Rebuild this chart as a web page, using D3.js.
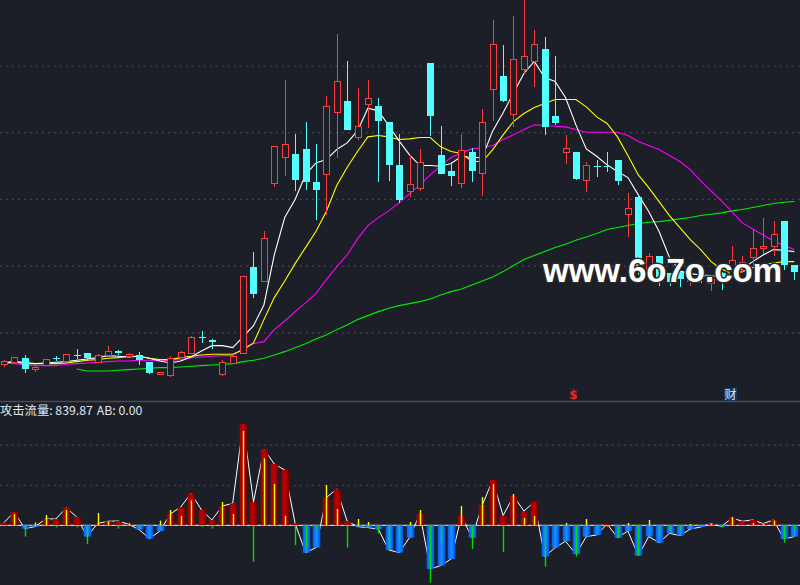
<!DOCTYPE html>
<html><head><meta charset="utf-8">
<script src="https://cdn.jsdelivr.net/npm/d3@7"></script>
<style>html,body{margin:0;padding:0;background:#1c1f27;} svg{display:block;}</style>
</head><body>
<svg id="c" width="800" height="585"></svg>
<script>
// ---- data ----
const opens  = [5.52,5.56,5.62,5.45,5.51,5.61,5.57,5.66,5.69,5.56, 5.66,5.72,5.65,5.66,5.56,5.37,5.37,5.63,5.69,5.93, 5.89,5.37,5.54,5.69,6.98,6.77,8.24,8.64,8.67,8.75, 8.25,8.38,9.31,9.47,8.93,9.43,9.39,9.15,8.51,8.12, 8.17,10.04,8.66,8.42,8.24,8.70,8.40,9.64,9.84,9.27, 9.94,10.06,10.25,9.24,8.70,8.70,8.29,8.50,8.495,8.58, 7.78,8.03,6.96,7.14,6.89,6.90,6.77,6.84,6.74,6.89, 6.83,7.04,7.12,7.27,7.30,7.67,7.01];
const highs  = [5.59,5.63,5.66,5.49,5.60,5.645,5.68,5.75,5.69,5.67, 5.80,5.74,5.69,5.71,5.56,5.41,5.65,5.72,5.95,6.02, 5.90,5.59,5.67,6.84,7.20,7.52,8.80,9.78,8.97,9.15, 8.82,9.54,10.47,10.07,9.67,9.78,9.51,9.16,8.97,8.66, 8.75,10.04,9.09,8.56,8.98,8.76,9.35,10.68,10.31,10.74, 10.98,10.53,10.42,10.14,8.96,8.71,8.55,8.59,8.70,8.59, 8.09,8.06,7.19,7.15,6.89,6.92,6.89,6.93,6.83,6.90, 7.29,7.14,7.54,7.72,7.67,7.67,7.01];
const lows   = [5.48,5.54,5.39,5.41,5.51,5.565,5.56,5.60,5.565,5.55, 5.65,5.655,5.64,5.51,5.37,5.37,5.33,5.62,5.68,5.845, 5.75,5.35,5.53,5.68,6.52,6.76,8.18,8.35,8.12,8.13, 7.68,7.76,8.62,9.03,8.88,9.07,8.26,8.27,7.94,8.03, 8.12,8.95,8.38,8.20,8.16,8.26,8.05,9.17,9.45,9.08, 9.89,9.68,8.96,9.11,8.53,8.28,8.10,8.33,8.41,8.21, 7.43,6.86,6.90,6.69,6.69,6.68,6.69,6.74,6.62,6.63, 6.81,6.885,6.99,7.17,7.14,6.93,6.78];
const closes = [5.57,5.63,5.45,5.48,5.60,5.60,5.68,5.655,5.61,5.66, 5.72,5.69,5.68,5.58,5.40,5.405,5.62,5.70,5.93,5.92, 5.86,5.55,5.65,6.84,6.58,7.42,8.79,8.83,8.28,8.26, 8.13,9.40,9.77,9.04,9.10,9.52,9.16,8.51,7.98,8.23, 8.56,9.25,8.38,8.35,8.74,8.41,9.16,10.32,9.46,10.09, 10.14,10.32,9.08,9.14,8.76,8.30,8.51,8.49,8.485,8.26, 7.87,6.91,7.15,6.78,6.76,6.80,6.83,6.83,6.80,6.80, 7.09,7.06,7.26,7.30,7.48,7.01,6.91];

const ma5  = [5.54,5.56,5.53,5.53,5.54,5.55,5.56,5.58,5.60,5.62, 5.65,5.64,5.63,5.64,5.61,5.57,5.54,5.57,5.63,5.72, 5.80,5.80,5.77,5.93,6.10,6.41,7.16,7.72,7.99,8.36, 8.54,8.59,8.74,8.84,9.02,9.36,9.32,9.10,8.87,8.66, 8.50,8.50,8.49,8.53,8.64,8.62,8.62,9.02,9.29,9.59, 9.88,10.06,9.82,9.76,9.52,9.11,8.75,8.64,8.51,8.41, 8.32,8.06,7.81,7.51,7.12,6.92,6.88,6.86,6.85,6.83, 6.88,6.95,7.06,7.16,7.24,7.23,7.21];
const ma10 = [5.54,5.56,5.55,5.53,5.53,5.53,5.54,5.56,5.58,5.59, 5.61,5.62,5.64,5.64,5.61,5.59,5.59,5.62,5.64,5.66, 5.67,5.67,5.67,5.74,5.84,6.19,6.52,6.77,7.03,7.27, 7.51,7.81,8.20,8.47,8.71,8.93,8.95,8.93,8.89,8.90, 8.92,8.92,8.78,8.71,8.68,8.56,8.56,8.74,8.96,9.16, 9.28,9.37,9.43,9.49,9.49,9.49,9.38,9.23,9.13,8.93, 8.65,8.36,8.17,7.96,7.75,7.57,7.39,7.24,7.06,6.95, 6.88,6.91,6.97,7.01,7.04,7.06,7.06];
const ma20 = [5.54,5.53,5.51,5.50,5.50,5.50,5.52,5.53,5.54,5.55, 5.56,5.57,5.57,5.58,5.58,5.57,5.58,5.59,5.62,5.63, 5.64,5.65,5.65,5.76,5.83,5.86,6.04,6.17,6.31,6.44, 6.58,6.79,6.98,7.16,7.40,7.60,7.72,7.82,7.94,8.08, 8.21,8.36,8.50,8.62,8.69,8.75,8.77,8.80,8.89,8.96, 9.04,9.11,9.10,9.09,9.08,9.04,9.00,9.00,9.00,9.00, 8.95,8.86,8.80,8.74,8.65,8.56,8.44,8.27,8.12,7.97, 7.81,7.64,7.55,7.46,7.37,7.30,7.24];
const ma60 = [null,null,null,null,null,null,null,5.45,5.42,5.42, 5.42,5.43,5.44,5.45,5.46,5.47,5.47,5.48,5.49,5.50, 5.51,5.52,5.53,5.56,5.58,5.61,5.66,5.71,5.77,5.83, 5.90,5.96,6.04,6.11,6.19,6.25,6.31,6.36,6.40,6.43, 6.46,6.50,6.56,6.61,6.65,6.71,6.77,6.83,6.91,7.00, 7.09,7.15,7.21,7.27,7.32,7.38,7.43,7.48,7.54,7.57, 7.60,7.63,7.65,7.66,7.68,7.70,7.72,7.75,7.77,7.79, 7.82,7.84,7.87,7.90,7.93,7.95,7.96];

const flow = [33,165,-41,-16,78,78,219,103,-140,21, 50,53,12,-53,-165,-71,140,227,397,190, 66,239,273,1256,289,946,760,686,25,-339, -277,343,450,53,-16,-29,-46,-306,-339,-153, 140,-542,-500,-418,115,-153,252,562,120,363, 177,289,-388,-277,-198,-356,-140,-120,16,-153, -71,-376,-140,-215,-99,-128,-46,-21,21,-16, 91,50,66,21,66,-170,-140];
const ab = [0,140,-140,33,128,-25,190,-25,-232,153, 50,-41,25,-41,0,58,190,115,306,-21, -41,289,140,1169,-450,831,512,115,-244,-277, -46,500,202,-277,78,41,-99,-298,-170,41, 190,-711,-202,-46,239,-294,351,512,-331,388, 91,115,-512,-46,29,-388,78,-21,-21,-149, 29,-368,66,-128,-58,-58,16,0,16,-29, 103,0,29,16,58,-215,-58];

const priceTicks = [6,7,8,9,10];
const flowTicks = [500,1000];
const labelMain = "攻击流量: 839.87";
const labelAB = "AB: 0.00";
const markers = ["$", "财"];
const watermark = "www.6o7o.com";

// ---- drawing ----
const W = 800, H = 585, BG = "#1c1f27";
const RED = "#ff3c3c", CYAN = "#54ffff";
const svg = d3.select("#c");
svg.append("rect").attr("width", W).attr("height", H).attr("fill", BG);

const n = opens.length;
const x = d3.scaleLinear().domain([0, n - 1]).range([3.9, 794.3]);
const y = d3.scaleLinear().domain([5, 11]).range([399, -1.2]);
const yv = d3.scaleLinear().domain([0, 1000]).range([525.3, 444.7]);
const cx = i => Math.round(x(i));

const defs = svg.append("defs");
const gr = defs.append("linearGradient").attr("id", "gred").attr("x1", 0).attr("x2", 1).attr("y1", 0).attr("y2", 0);
gr.append("stop").attr("offset", "0%").attr("stop-color", "#9a0000");
gr.append("stop").attr("offset", "45%").attr("stop-color", "#c20000");
gr.append("stop").attr("offset", "100%").attr("stop-color", "#6e0000");
const gb = defs.append("linearGradient").attr("id", "gblue").attr("x1", 0).attr("x2", 1).attr("y1", 0).attr("y2", 0);
gb.append("stop").attr("offset", "0%").attr("stop-color", "#0058ff");
gb.append("stop").attr("offset", "50%").attr("stop-color", "#1590ff");
gb.append("stop").attr("offset", "100%").attr("stop-color", "#0050e8");

// gridlines via axes
const gridStyle = g => {
  g.select(".domain").remove();
  g.selectAll("text").remove();
  g.selectAll(".tick line").attr("stroke", "#4b505c").attr("stroke-dasharray", "1.5,4.5").attr("stroke-width", 1.2);
};
svg.append("g")
  .call(d3.axisRight(y).tickValues(priceTicks).tickSize(W).tickFormat(""))
  .call(gridStyle);
svg.append("g")
  .call(d3.axisRight(yv).tickValues(flowTicks).tickSize(W).tickFormat(""))
  .call(gridStyle);

// separator
svg.append("line").attr("x1", 0).attr("x2", W).attr("y1", 401.5).attr("y2", 401.5)
  .attr("stroke", "#454a55").attr("stroke-width", 1.5);

// moving averages
const maLine = d3.line().defined(d => d != null).x((d, i) => x(i)).y(d => y(d));
[[ma60, "#00ee00"], [ma20, "#ff00ff"], [ma10, "#ffff00"], [ma5, "#ffffff"]].forEach(([arr, col]) => {
  svg.append("path").datum(arr).attr("d", maLine).attr("fill", "none").attr("stroke", col).attr("stroke-width", 1.1);
});

// candles
const idx = d3.range(n);
const up = i => closes[i] >= opens[i];
const cg = svg.append("g").attr("shape-rendering", "crispEdges");
cg.selectAll("line.wick").data(idx).join("line").attr("class", "wick")
  .attr("x1", i => cx(i) + 0.5).attr("x2", i => cx(i) + 0.5)
  .attr("y1", i => Math.round(y(highs[i]))).attr("y2", i => Math.round(y(lows[i])))
  .attr("stroke", i => up(i) ? RED : CYAN).attr("stroke-width", 1);
cg.selectAll("rect.body").data(idx).join("rect").attr("class", "body")
  .attr("x", i => up(i) ? cx(i) - 2.5 : cx(i) - 3)
  .attr("y", i => Math.round(y(Math.max(opens[i], closes[i]))) + (up(i) ? 0.5 : 0))
  .attr("width", i => up(i) ? 6 : 7)
  .attr("height", i => Math.max(1, Math.round(Math.abs(y(opens[i]) - y(closes[i])))))
  .attr("fill", i => up(i) ? BG : CYAN)
  .attr("stroke", i => up(i) ? RED : "none").attr("stroke-width", 1);

// markers
svg.append("text").attr("x", 573.5).attr("y", 399).attr("text-anchor", "middle")
  .attr("font-family", "DejaVu Sans").attr("font-weight", "bold").attr("font-size", 12)
  .attr("fill", "#ff2020").text(markers[0]);
svg.append("rect").attr("x", 724).attr("y", 388).attr("width", 13).attr("height", 13).attr("fill", "#103a6c");
svg.append("text").attr("x", 730.5).attr("y", 399).attr("text-anchor", "middle")
  .attr("font-family", "Noto Sans CJK SC").attr("font-size", 12)
  .attr("fill", "#d8e4ff").text(markers[1]);

// lower panel
svg.append("line").attr("x1", 0).attr("x2", W).attr("y1", yv(0)).attr("y2", yv(0))
  .attr("stroke", "#ffffff").attr("stroke-width", 1);
svg.append("path").datum(flow)
  .attr("d", d3.line().x((d, i) => x(i)).y(d => yv(d)))
  .attr("fill", "none").attr("stroke", "#ffffff").attr("stroke-width", 1);
svg.append("g").selectAll("rect").data(idx).join("rect")
  .attr("x", i => cx(i) - 3.3).attr("width", 7.6)
  .attr("y", i => Math.min(yv(0), yv(flow[i])))
  .attr("height", i => Math.max(1, Math.abs(yv(flow[i]) - yv(0))))
  .attr("fill", i => flow[i] >= 0 ? "url(#gred)" : "url(#gblue)");
svg.append("g").selectAll("line").data(idx.filter(i => ab[i] !== 0)).join("line")
  .attr("x1", i => cx(i) + 0.5).attr("x2", i => cx(i) + 0.5)
  .attr("y1", yv(0)).attr("y2", i => yv(ab[i]))
  .attr("stroke", i => ab[i] > 0 ? "#ffff00" : "#00dd00").attr("stroke-width", 1.4);

// label
svg.append("text").attr("x", 0).attr("y", 415).attr("font-family", "Noto Sans CJK SC")
  .attr("font-size", 12.3).attr("fill", "#dfe6f0").text(labelMain);
svg.append("text").attr("x", 96.7).attr("y", 415).attr("font-family", "Noto Sans CJK SC")
  .attr("font-size", 12.3).attr("fill", "#dfe6f0").text(labelAB);

// watermark
svg.append("text").attr("x", 543).attr("y", 282)
  .attr("font-family", "Liberation Sans").attr("font-weight", "bold").attr("font-size", 33)
  .attr("fill", "#ffffff").attr("stroke", "#2a2a2a").attr("stroke-width", 3)
  .attr("paint-order", "stroke").text(watermark);
</script>
</body></html>
